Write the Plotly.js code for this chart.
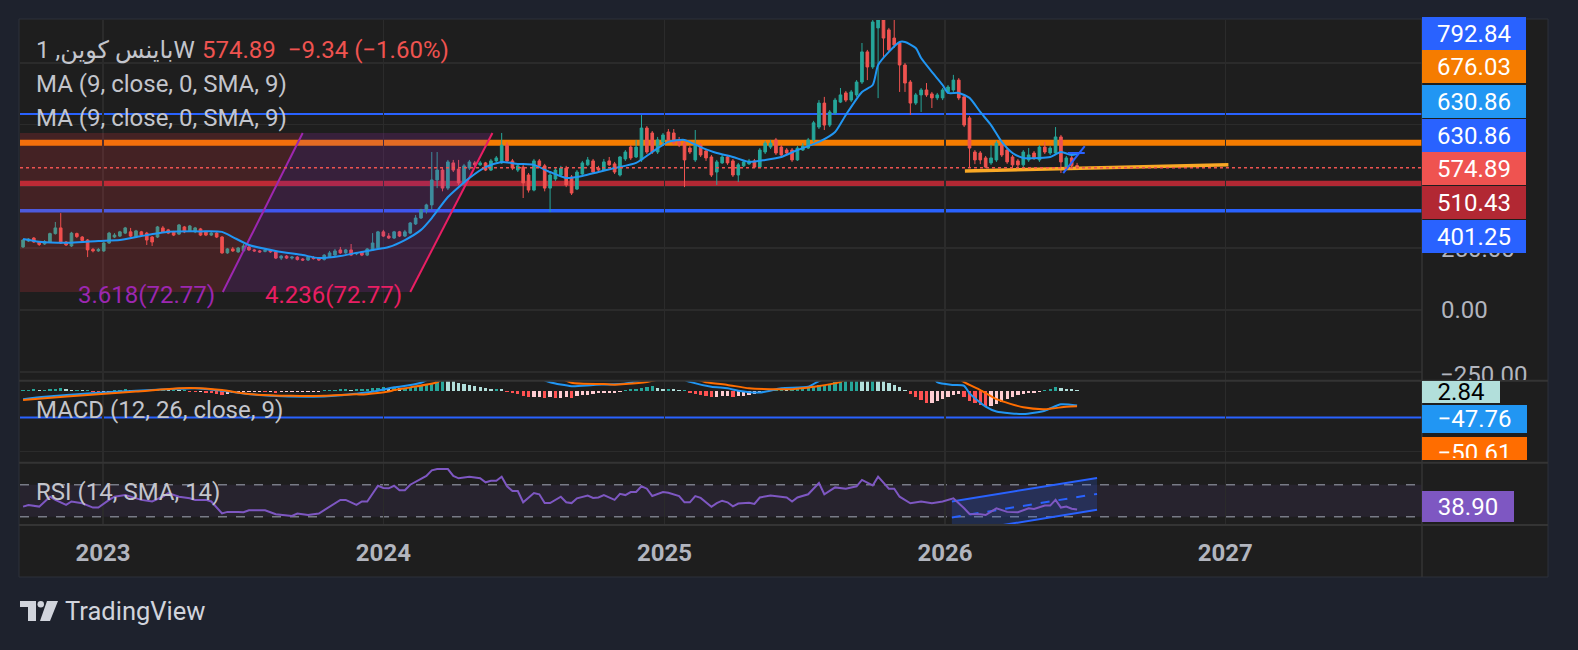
<!DOCTYPE html>
<html><head><meta charset="utf-8">
<script src="https://cdn.plot.ly/plotly-3.0.1.min.js"></script>
<style>html,body{margin:0;padding:0;background:#1e222d;}#chart{width:1578px;height:650px;}</style>
</head><body><div id="chart"></div>
<script>
// ---------- DATA (weekly candles, first week 2022-09-19) ----------
const firstWeek = [2022, 8, 19];
const openP = [255,279,291,275,267,275,309,332,275,259, 309,295,283,245,239,239,271,295,299,311,
316,297,316,311,295,295,332,324,316,307, 336,320,316,328,316,303,311,295,231,247,
235,239,255,243,239,237,241,235,210,218, 210,214,206,202,212,210,204,216,222,243,
231,243,227,235,222,243,251,316,299,291, 316,299,311,348,372,405,425,526,566,493,
595,570,514,574,595,587,595,566,603,595, 667,603,566,578,546,485,603,583,493,530,
546,574,538,489,550,587,603,574,566,603, 591,546,611,659,619,607,736,716,639,680,
720,716,688,675,655,607,667,643,619,558, 595,619,603,546,583,591,603,578,639,659,
688,659,647,647,607,647,655,688,740,837, 748,797,841,878,849,870,922,1044,983,1141,
1173,1133,1100,1080,991,922,837,870,890,874, 858,858,882,890,930,862,777,639,635,615,
595,607,667,647,619,603,587,607,635,607, 659,635,635,700,574,615,584.23];
const highP = [287,291,295,279,283,313,356,392,279,316, 313,299,287,251,251,275,316,311,320,336,
332,324,320,316,299,340,340,328,320,348, 340,344,336,332,320,320,316,299,251,255,
255,267,263,247,243,247,245,239,222,222, 218,218,210,218,218,214,226,239,247,255,
247,267,235,239,251,311,320,324,311,320, 320,324,356,384,409,430,639,639,574,607,
607,607,591,607,603,603,599,611,623,716, 680,611,591,587,554,611,611,591,558,574,
583,583,546,566,603,619,611,583,611,619, 599,623,647,667,688,789,744,724,700,716,
732,732,700,688,663,728,675,651,627,607, 627,627,611,595,607,611,611,655,684,688,
696,667,655,655,663,675,696,765,849,862, 809,858,898,886,890,930,1080,1052,1180,1185,
1185,1141,1173,1088,999,930,878,898,918,882, 878,898,910,951,938,870,785,647,643,623,
667,684,675,655,627,611,647,655,643,667, 680,663,740,708,623,623,595];
const lowP = [251,275,271,259,263,271,305,267,259,255, 291,277,214,233,235,235,267,291,295,307,
295,291,299,263,259,291,311,307,299,303, 311,316,311,299,299,299,291,227,227,235,
231,235,239,235,231,233,231,206,202,206, 204,200,198,198,204,198,200,212,218,227,
227,218,222,218,218,239,247,295,287,287, 295,295,307,344,368,390,405,493,480,485,
558,505,505,566,578,583,562,562,599,591, 595,566,558,453,475,480,574,480,396,522,
540,497,465,485,546,583,554,558,562,583, 550,540,603,607,615,599,631,631,631,672,
680,667,659,497,631,599,619,603,538,506, 591,587,538,518,578,587,574,574,631,651,
627,619,627,599,603,643,651,680,732,728, 740,789,837,841,841,862,914,930,975,857,
1019,1044,1060,882,882,789,829,801,862,817, 849,849,874,882,849,740,574,590,590,574,
587,599,619,591,578,574,578,599,607,599, 631,627,627,554,566,566,566];
const closeP = [283,287,275,265,277,309,332,271,263,311, 297,281,243,239,245,271,311,303,316,332,
299,320,303,283,275,336,316,311,303,344, 316,340,332,303,303,311,295,231,247,239,
251,259,243,239,235,241,235,210,218,210, 214,204,202,214,208,202,222,231,239,231,
243,222,231,222,247,271,316,299,291,316, 299,316,352,372,405,425,526,566,493,599,
566,514,583,599,587,595,566,603,615,667, 603,574,583,514,485,603,583,493,546,566,
574,506,473,558,595,607,558,566,599,587, 558,619,639,615,659,736,639,639,688,708,
688,675,667,607,639,667,627,615,546,599, 619,595,546,587,599,603,578,647,675,675,
635,627,635,607,655,663,688,757,837,748, 801,849,870,849,882,922,1044,983,1165,1173,
1100,1052,1072,991,918,837,870,890,870,858, 870,890,902,930,858,748,655,607,607,578,
615,675,627,599,587,587,639,627,615,659, 639,655,700,599,615,584.23,574.89];

// MA (9): candle index -> value
const maIdx = [0,3,9,14,18,22,27,33,37,39,42,47,52,55,59,62,65,68,71,74,76,79,83,86,89,92,95,98,101,104,
107,110,114,117,120,123,126,129,132,135,138,141,144,148,151,153,156,158,159,161,163,164,166,167,169,171,172,174,176,178,
180,182,184,186,189,191,193,195,196];
const maVal = [287,276,272,279,283,299,316,318,316,295,263,239,222,210,218,231,243,255,283,324,372,457,534,578,599,591,587,558,534,542,
558,574,595,639,680,688,659,635,619,599,607,619,647,680,720,789,882,910,991,1044,1084,1084,1060,1019,963,910,878,878,858,801,
748,680,635,615,615,619,639,627,631];

// MACD (12,26,9)
const macdIdx = [0,4,12,21,29,32,37,41,46,54,58,62,63,66,69,70,74,76,79,85,91,94,98,102,106,112,116,120,124,128,131,133,137,141,146,148,152,158,163,167,170,173,175,176,179,181,186,190,193,196];
const macdVal = [-27,-19,-8,1,7,9,1,-8,-16,-19,-16,-9,-7,1,12,14,27,45,80,110,90,60,29,16,20,25,40,55,30,14,9,1,-5,9,14,33,60,120,150,110,29,20,17,-8,-52,-68,-76,-65,-44,-47.76];
const sigIdx = [0,4,12,21,29,33,37,42,50,56,62,63,68,69,72,77,79,85,93,98,102,108,110,112,116,120,124,127,131,135,139,143,147,152,158,163,171,175,178,181,186,190,194,196];
const sigVal = [-30,-24,-13,-2,9,9,3,-10,-16,-16,-11,-12,-2,3,12,29,50,90,90,60,27,23,21,23,30,45,45,29,20,9,6,6,14,30,90,130,80,29,3,-27,-54,-60,-52,-50.61];
const histVal = [3.3,3.3,5,3.3,3.3,5,6.6,8.3,5,3.3, 3.3,1.7,1.7,-3.3,-5,-3.3,-1.7,1.7,3.3,5,
3.3,3.3,3.3,3.3,1.7,3.3,5,3.3,3.3,1.7, 1.7,-1.7,-3.3,-3.3,-5,-6.6,-9.9,-11.6,-9.9,-6.6,
-5,-3.3,-3.3,-3.3,-1.7,-3.3,-3.3,-5,-3.3,-3.3, -3.3,-3.3,-1.7,-1.7,-1.7,-1.7,1.7,3.3,3.3,5,
5,3.3,5,6.6,6.6,8.3,9.9,11.6,9.9,9.9, 8.3,9.9,13.2,16.5,19.8,23.1,26.4,36,42,40,
36,26.4,23.1,19.8,16.5,13.2,9.9,6.6,6.6,5, -3.3,-6.6,-9.9,-16.5,-19.8,-19.8,-19.8,-23.1,-19.8,-23.1,
-23.1,-19.8,-23.1,-16.5,-13.2,-13.2,-9.9,-6.6,-6.6,-6.6, -5,-3.3,3.3,6.6,6.6,9.9,13.2,16.5,9.9,6.6,
6.6,5,3.3,3.3,-6.6,-9.9,-13.2,-16.5,-19.8,-19.8, -16.5,-16.5,-19.8,-16.5,-16.5,-13.2,-9.9,-6.6,-3.3,3.3,
3.3,6.6,5,6.6,9.9,13.2,13.2,16.5,19.8,19.8, 23.1,29.7,36,40,40,40,38,36,38,36,
34,26.4,19.8,13.2,3.3,-9.9,-19.8,-29.7,-39.6,-39.6, -33,-26.4,-19.8,-13.2,-9.9,-19.8,-33,-39.6,-46.2,-49.5,
-49.5,-42.9,-36.3,-26.4,-19.8,-13.2,-9.9,-6.6,-5,-3.3, 3.3,6.6,13.2,9.9,6.6,5,2.84];

// RSI (14)
const rsiIdx = [0,1,3,4,5,6,8,9,11,13, 14,16,17,19,21,22,24,26,27,29, 31,32,34,35,37,38,40,41,42,45,
47,50,51,53,55,57,59,60,62,63, 64,66,67,68,69,70,71,72,74,75, 76,77,79,80,81,83,85,86,87,88,
89,90,91,92,93,95,96,97,98,100, 101,102,103,105,106,107,108,110,111,112, 113,114,115,116,117,119,120,122,123,124,
125,126,128,129,130,131,132,133,135,136, 137,139,142,143,144,146,148,149,151,153, 155,156,158,159,161,162,163,165,167,169,
171,173,175,176,178,179,181,183,185,187, 188,190,191,192,193,194,195,196];
const rsiVal = [42.6,44.7,42.6,49,55,51,44.7,49,46.8,41.4, 41.4,51,55,57,53,51,49,55,59.5,55, 53,51,51,49,34,36,36,35.5,38,38,
33,31,34,32,34,42.6,51,51,44.7,49, 49,68.7,66,65.5,68.7,63,63,70,77,81, 88,89.6,89.6,81,78,80,78,73,75,75,
80,68,62,62,48,59.6,58,47,47,55, 48,47,53,56.5,53.5,54,57,51,58.5,57, 60.8,60.8,68,65,55.8,60.8,60,55.8,48,48,
55.8,53.5,42.3,47,50,48,43,46.5,47.5,46, 54,56.5,54,49,54,58,72,58,66.6,65, 68,76,69,80,65,65,55,46.8,49,46.8,
49,53,40.5,33.4,33,32,40.5,36,35.5,40.5, 39.7,43.9,43.9,51,41.4,42.6,40,38.9];

// horizontal levels & drawings
const levelPrices = [792.84, 676.03, 510.43, 401.25];
const levelColors = ['#2962ff', '#f57c00', '#b22833', '#2962ff'];
const levelWidths = [2, 6, 6, 3.5];
const lastPrice = 574.89;
const macdLevel = -88;
const fibPrices = [72.77, 716];
const fibDates = ['2022-07-01', '2023-06-06', '2023-09-18', '2024-02-05', '2024-05-22'];
const fibLabels = ['3.618(72.77)', '4.236(72.77)'];
const fibLabelDates = ['2023-05-27', '2024-01-25'];
const trendDates = ['2026-01-27', '2027-01-05'];
const trendPrices = [562, 587];
const penADates = ['2026-06-04', '2026-07-02'];
const penAPrices = [554, 663];
const penBDates = ['2026-06-10', '2026-07-02'];
const penBPrices = [635, 635];
const channelDates = ['2026-01-10', '2026-07-18'];
const channelUpper = [49, 78.4];
const channelMid = [29.1, 58.5];
const channelLower = [9.2, 38.6];
const priceTicks = [-250, 0, 250, 500, 750, 1000];
// lowest tick label is drawn separately (cut by the pane edge); upper ticks are hidden under the price labels
const priceTickText = ['', '0.00', '250.00', '', '', ''];
const bottomTickText = '\u2212250.00';
const priceLabelText = ['792.84', '676.03', '630.86', '630.86', '574.89', '510.43', '401.25'];
const priceLabelColors = ['#2962ff', '#f57c00', '#2196f3', '#2962ff', '#ef5350', '#b22833', '#2962ff'];
const macdLabelText = ['2.84', '\u221247.76', '\u221250.61'];
const rsiLabelText = '38.90';
const xRange = ['2022-09-15', '2027-09-14'];

// ---------- helpers ----------
const dates = closeP.map((_, i) => new Date(Date.UTC(firstWeek[0], firstWeek[1], firstWeek[2] + 7 * i)).toISOString().slice(0, 10));
const L = 20, R = 1422, T = 20, B = 525;
const px2x = p => (p - L) / (R - L);
const py2y = p => (B - p) / (B - T);
const FONT = 'Roboto, "DejaVu Sans", "Noto Sans", sans-serif';
const FS = 24;

const histColors = histVal.map((v, i) => {
  const prev = i > 0 ? histVal[i - 1] : v;
  if (v >= 0) return v >= prev ? '#26a69a' : '#b2dfdb';
  return v < prev ? '#ff5252' : '#ffcdd2';
});

const traces = [
  { x: [fibDates[0], fibDates[2], fibDates[1], fibDates[0]], y: [fibPrices[1], fibPrices[1], fibPrices[0], fibPrices[0]],
    fill: 'toself', fillcolor: 'rgba(242,54,69,0.18)', mode: 'lines', line: { width: 0 }, yaxis: 'y', hoverinfo: 'skip' },
  { x: [fibDates[2], fibDates[4], fibDates[3], fibDates[1]], y: [fibPrices[1], fibPrices[1], fibPrices[0], fibPrices[0]],
    fill: 'toself', fillcolor: 'rgba(156,39,176,0.2)', mode: 'lines', line: { width: 0 }, yaxis: 'y', hoverinfo: 'skip' },
  { x: [fibDates[1], fibDates[2]], y: fibPrices, mode: 'lines', line: { color: '#9c27b0', width: 2 }, yaxis: 'y' },
  { x: [fibDates[3], fibDates[4]], y: fibPrices, mode: 'lines', line: { color: '#e91e63', width: 2 }, yaxis: 'y' },
  { x: trendDates, y: trendPrices, mode: 'lines', line: { color: '#f9a825', width: 3.5 }, yaxis: 'y' },
  { type: 'candlestick', x: dates, open: openP, high: highP, low: lowP, close: closeP, yaxis: 'y',
    increasing: { line: { color: '#26a69a', width: 1 }, fillcolor: '#26a69a' },
    decreasing: { line: { color: '#ef5350', width: 1 }, fillcolor: '#ef5350' },
    whiskerwidth: 0 },
  { x: maIdx.map(i => dates[i]), y: maVal, mode: 'lines', line: { color: '#2196f3', width: 2, shape: 'spline', smoothing: 0.6 }, yaxis: 'y' },
  { x: penADates, y: penAPrices, mode: 'lines', line: { color: '#2962ff', width: 2 }, yaxis: 'y' },
  { x: penBDates, y: penBPrices, mode: 'lines', line: { color: '#2962ff', width: 2 }, yaxis: 'y' },
  // MACD pane
  { type: 'bar', x: dates, y: histVal, marker: { color: histColors, line: { width: 0 } }, width: 4.3 * 86400000, yaxis: 'y2' },
  { x: macdIdx.map(i => dates[i]), y: macdVal, mode: 'lines', line: { color: '#2196f3', width: 2, shape: 'spline', smoothing: 0.6 }, yaxis: 'y2' },
  { x: sigIdx.map(i => dates[i]), y: sigVal, mode: 'lines', line: { color: '#ff6d00', width: 2, shape: 'spline', smoothing: 0.6 }, yaxis: 'y2' },
  // RSI pane
  { x: [channelDates[0], channelDates[1], channelDates[1], channelDates[0]], y: [channelUpper[0], channelUpper[1], channelLower[1], channelLower[0]],
    fill: 'toself', fillcolor: 'rgba(41,98,255,0.2)', mode: 'lines', line: { width: 0 }, yaxis: 'y3' },
  { x: channelDates, y: channelUpper, mode: 'lines', line: { color: '#2962ff', width: 2 }, yaxis: 'y3' },
  { x: channelDates, y: channelLower, mode: 'lines', line: { color: '#2962ff', width: 2 }, yaxis: 'y3' },
  { x: channelDates, y: channelMid, mode: 'lines', line: { color: '#2962ff', width: 2, dash: 'dash' }, yaxis: 'y3' },
  { x: rsiIdx.map(i => dates[i]), y: rsiVal, mode: 'lines', line: { color: '#7e57c2', width: 2 }, yaxis: 'y3' }
];

const shapes = [
  { type: 'rect', xref: 'paper', yref: 'paper', x0: px2x(19), x1: px2x(1548), y0: py2y(577), y1: py2y(19),
    fillcolor: '#1e1e1e', line: { color: '#2c303b', width: 1 }, layer: 'below' }
];
levelPrices.forEach((v, k) => shapes.push({ type: 'line', xref: 'paper', x0: 0, x1: 1, yref: 'y', y0: v, y1: v,
  line: { color: levelColors[k], width: levelWidths[k] }, layer: 'between' }));
shapes.push({ type: 'line', xref: 'paper', x0: 0, x1: 1, yref: 'y', y0: lastPrice, y1: lastPrice,
  line: { color: '#ef5350', width: 1.5, dash: 'dot' }, layer: 'above' });
shapes.push({ type: 'line', xref: 'paper', x0: 0, x1: 1, yref: 'y2', y0: macdLevel, y1: macdLevel,
  line: { color: '#2962ff', width: 2 }, layer: 'between' });
shapes.push({ type: 'rect', xref: 'paper', x0: 0, x1: 1, yref: 'y3', y0: 30, y1: 70,
  fillcolor: 'rgba(126,87,194,0.1)', line: { width: 0 }, layer: 'between' });
[30, 70].forEach(v => shapes.push({ type: 'line', xref: 'paper', x0: 0, x1: 1, yref: 'y3', y0: v, y1: v,
  line: { color: '#787b86', width: 1.5, dash: 'dash' }, layer: 'between' }));
[380.7, 462.7, 525].forEach(p => shapes.push({ type: 'line', xref: 'paper', yref: 'paper', x0: px2x(19), x1: px2x(1548),
  y0: py2y(p), y1: py2y(p), line: { color: '#343434', width: 2 }, layer: 'above' }));
shapes.push({ type: 'line', xref: 'paper', yref: 'paper', x0: px2x(1422), x1: px2x(1422), y0: py2y(577), y1: py2y(19),
  line: { color: '#343434', width: 1.5 }, layer: 'above' });
// TradingView logo
const P = (pts) => 'M' + pts.map(p => px2x(p[0]) + ',' + py2y(p[1])).join(' L') + ' Z';
shapes.push({ type: 'path', xref: 'paper', yref: 'paper', path: P([[20,601],[36,601],[36,621],[28,621],[28,607],[20,607]]), fillcolor: '#d1d4dc', line: { width: 0 } });
shapes.push({ type: 'circle', xref: 'paper', yref: 'paper', x0: px2x(37.5), x1: px2x(44), y0: py2y(607.5), y1: py2y(601), fillcolor: '#d1d4dc', line: { width: 0 } });
shapes.push({ type: 'path', xref: 'paper', yref: 'paper', path: P([[47,601],[58,601],[50,621],[40,621]]), fillcolor: '#d1d4dc', line: { width: 0 } });

const ann = [];
const txt = (px, py, text, color, size, extra) => ann.push(Object.assign({ xref: 'paper', yref: 'paper', x: px2x(px), y: py2y(py),
  xanchor: 'left', yanchor: 'middle', text, showarrow: false, borderpad: 0, borderwidth: 0,
  font: { family: FONT, size: size || FS, color } }, extra || {}));
txt(36, 50, 'باينس كوين, 1W', '#c3c5cc');
txt(202, 50, priceLabelText[4] + '\u00a0\u00a0\u22129.34 (\u22121.60%)', '#ef5350');
txt(36, 84, 'MA (9, close, 0, SMA, 9)', '#c3c5cc');
txt(36, 118, 'MA (9, close, 0, SMA, 9)', '#c3c5cc');
txt(36, 410, 'MACD (12, 26, close, 9)', '#c3c5cc');
txt(36, 492, 'RSI (14, SMA, 14)', '#c3c5cc');
txt(65, 611, 'TradingView', '#d1d4dc', 25.5);
// bottom price tick, clipped by the pane separator as in the original
ann.push({ xref: 'paper', yref: 'paper', x: px2x(1440), y: py2y(379.5), xanchor: 'left', yanchor: 'bottom',
  text: bottomTickText, showarrow: false, borderpad: 0, borderwidth: 0, width: 100, height: 19, align: 'left', valign: 'top',
  font: { family: FONT, size: FS, color: '#b2b5be' } });
fibLabels.forEach((t, k) => ann.push({ xref: 'x', yref: 'y', x: fibLabelDates[k], y: fibPrices[0], xanchor: 'right', yanchor: 'middle',
  yshift: -3, borderpad: 0, borderwidth: 0, text: t, showarrow: false, font: { family: FONT, size: FS, color: k ? '#e91e63' : '#9c27b0' } }));
const box = (pyTop, pyBot, w, text, bg, fc, extra) => {
  const pad = 2;
  ann.push(Object.assign({ xref: 'paper', yref: 'paper', x: px2x(1422), y: py2y((pyTop + pyBot) / 2), xanchor: 'left', yanchor: 'middle',
    text, showarrow: false, bgcolor: bg, borderwidth: 0, borderpad: pad, width: w - 2 * pad, height: (pyBot - pyTop) - 2 * pad,
    align: 'center', font: { family: FONT, size: FS, color: fc } }, extra || {}));
};
const labCenters = [33, 67, 101, 135, 168.5, 202, 236];
priceLabelText.forEach((t, k) => box(labCenters[k] - 16.5, labCenters[k] + 16.5, 104, t, priceLabelColors[k], '#ffffff'));
box(381.5, 403, 78, macdLabelText[0], '#b2dfdb', '#000000');
box(404.5, 432.5, 105, macdLabelText[1], '#2196f3', '#ffffff');
box(437, 460, 105, macdLabelText[2], '#ff6d00', '#ffffff', { valign: 'top' });
box(491, 522, 92, rsiLabelText, '#7e57c2', '#ffffff');

const layout = {
  width: 1578, height: 650,
  margin: { l: L, r: 1578 - R, t: T, b: 650 - B, pad: 0 },
  paper_bgcolor: '#1e222d', plot_bgcolor: '#1e1e1e',
  showlegend: false,
  font: { family: FONT, color: '#b2b5be' },
  bargap: 0,
  xaxis: { type: 'date', range: xRange, anchor: 'y3', rangeslider: { visible: false },
    tickformat: '%Y', dtick: 'M12', tick0: '2023-01-01', showgrid: true, gridcolor: '#2b2b2b', gridwidth: 1.5,
    ticks: '', ticklabelstandoff: 11, zeroline: false, showline: false,
    tickfont: { family: FONT, size: 24, color: '#b2b5be', weight: 'bold' } },
  yaxis: { domain: [py2y(380.7), 1], range: [-286, 1173], side: 'right', anchor: 'x', tickvals: priceTicks, ticktext: priceTickText,
    showgrid: true, gridcolor: '#2b2b2b', gridwidth: 1.5, zeroline: false, ticks: '', ticklabelstandoff: 18,
    tickfont: { family: FONT, size: FS, color: '#b2b5be' } },
  yaxis2: { domain: [py2y(462.7), py2y(380.7)], range: [-237, 34], anchor: 'x', side: 'right', tickvals: [-200],
    showticklabels: false, showgrid: true, gridcolor: '#2b2b2b', gridwidth: 1.5, zeroline: false },
  yaxis3: { domain: [0, py2y(462.7)], range: [19.6, 97.5], anchor: 'x', side: 'right', showticklabels: false,
    showgrid: false, zeroline: false },
  shapes, annotations: ann
};

Plotly.newPlot('chart', traces, layout, { displayModeBar: false, staticPlot: true });
</script>
</body></html>
